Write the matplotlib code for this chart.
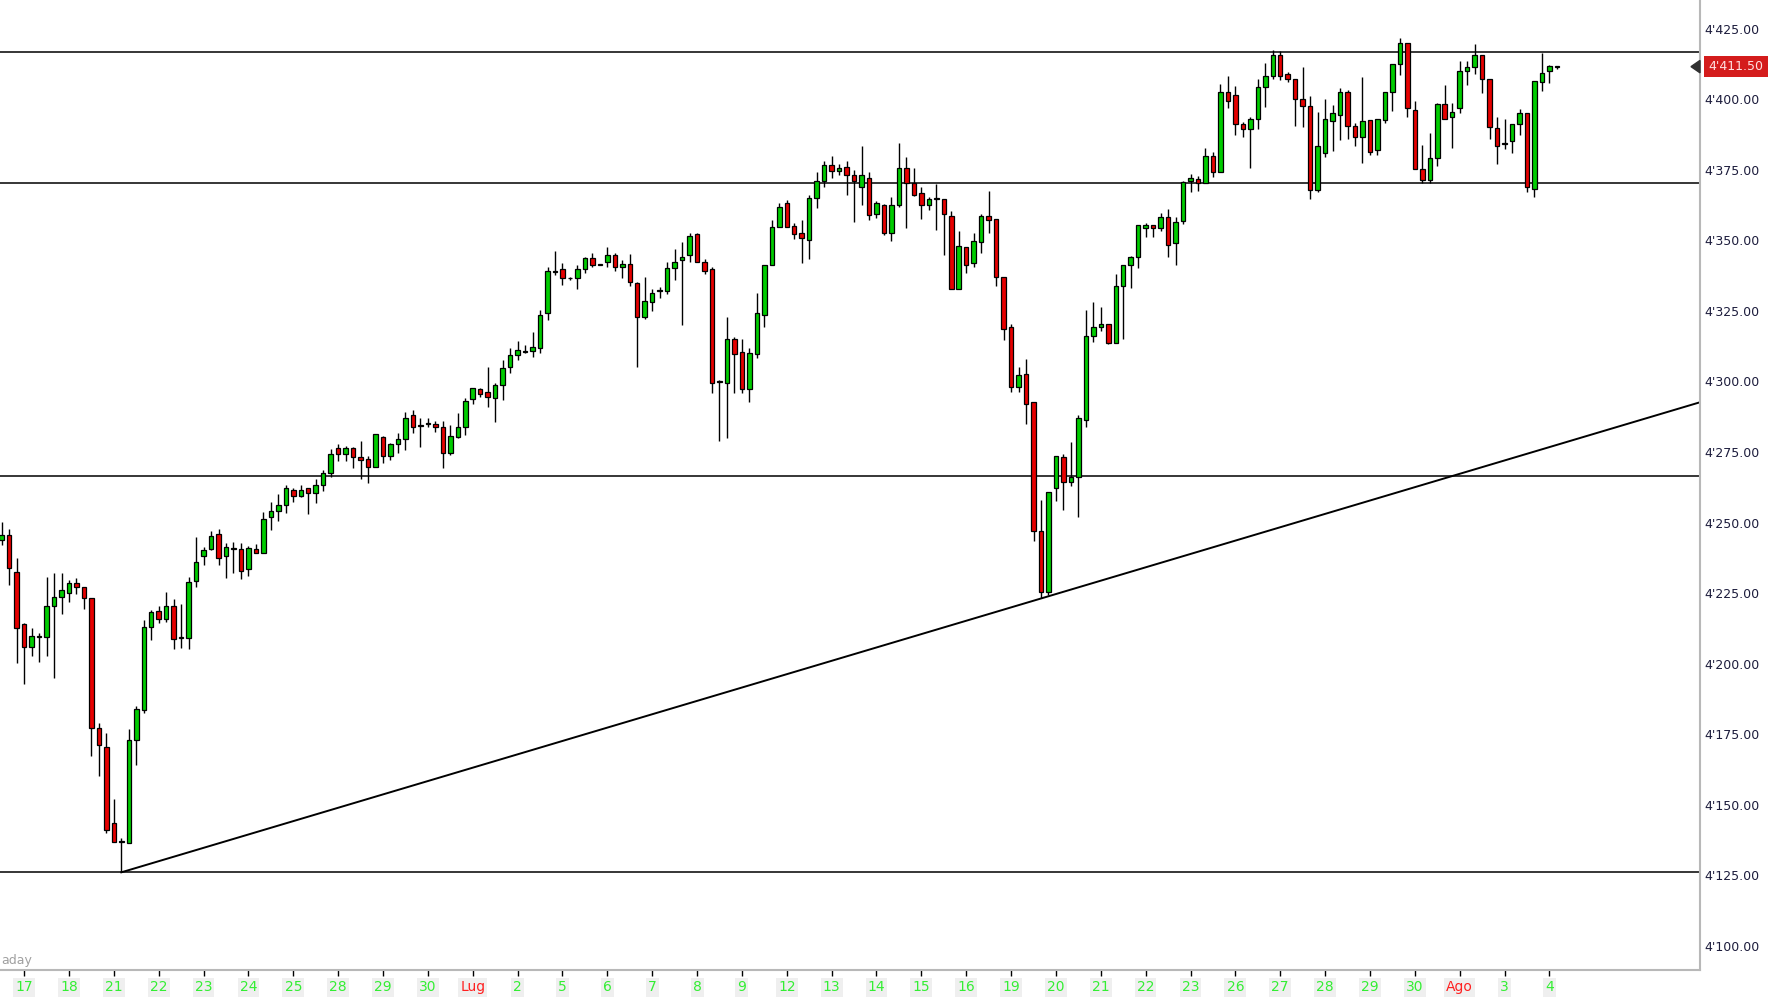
import matplotlib
matplotlib.use('Agg')
import matplotlib.pyplot as plt
import matplotlib.transforms as mtransforms
from matplotlib.patches import Polygon
import numpy as np

# 4h candles
opens = [4243.8, 4245.6, 4232.6, 4214.1, 4205.8, 4209.8, 4209.6, 4220.5, 4223.8, 4224.9,
         4228.5, 4227.1, 4223.2, 4177.1, 4170.6, 4143.7, 4137.0, 4136.4, 4173.0, 4183.6,
         4213.0, 4218.8, 4215.7, 4220.5, 4209.0, 4209.2, 4229.3, 4238.0, 4240.5, 4246.0,
         4238.0, 4240.8, 4240.5, 4233.4, 4240.8, 4239.1, 4251.8, 4254.2, 4256.2, 4261.5,
         4259.4, 4262.1, 4260.6, 4263.3, 4267.6, 4276.3, 4274.3, 4276.3, 4273.1, 4272.5,
         4269.8, 4280.2, 4273.5, 4277.8, 4279.5, 4288.0, 4284.2, 4285.0, 4284.9, 4283.9,
         4274.5, 4280.4, 4283.9, 4293.6, 4297.2, 4296.3, 4294.0, 4298.7, 4305.0, 4309.3,
         4310.5, 4310.9, 4312.0, 4324.1, 4338.9, 4339.7, 4336.5, 4336.5, 4339.7, 4343.6,
         4341.4, 4342.4, 4344.7, 4340.4, 4341.6, 4334.9, 4322.7, 4328.3, 4331.9, 4332.1,
         4340.3, 4343.0, 4344.8, 4352.2, 4342.4, 4339.7, 4299.9, 4299.5, 4314.9, 4310.5,
         4297.2, 4309.7, 4323.5, 4341.2, 4354.8, 4363.1, 4355.0, 4352.7, 4350.1, 4365.0,
         4371.0, 4376.5, 4374.5, 4376.0, 4373.0, 4369.0, 4372.0, 4359.3, 4362.5, 4352.7,
         4362.5, 4375.5, 4370.2, 4366.9, 4362.5, 4364.6, 4364.6, 4358.6, 4332.6, 4347.7,
         4341.8, 4349.5, 4358.7, 4357.5, 4337.1, 4319.3, 4297.9, 4302.5, 4292.8, 4247.1,
         4225.5, 4262.1, 4273.3, 4264.4, 4266.2, 4286.5, 4316.0, 4319.1, 4320.3, 4313.7,
         4333.8, 4341.4, 4344.0, 4354.3, 4355.3, 4354.3, 4358.1, 4348.9, 4356.9, 4371.0,
         4371.6, 4370.2, 4379.9, 4374.3, 4402.4, 4401.4, 4391.0, 4389.5, 4392.9, 4404.3,
         4408.1, 4415.6, 4408.9, 4407.0, 4400.2, 4397.5, 4367.8, 4380.8, 4392.3, 4394.3,
         4402.6, 4390.4, 4386.7, 4392.6, 4381.9, 4392.6, 4402.6, 4412.4, 4419.7, 4396.1,
         4375.4, 4371.5, 4379.3, 4398.2, 4393.5, 4397.0, 4410.0, 4411.2, 4415.6, 4407.0,
         4389.6, 4384.4, 4385.3, 4391.2, 4395.0, 4368.1, 4406.2, 4410.1, 4411.5]
highs = [4250.3, 4247.6, 4237.3, 4214.5, 4212.5, 4211.0, 4230.8, 4232.0, 4232.3, 4229.7,
         4230.3, 4227.1, 4223.2, 4178.9, 4175.6, 4152.0, 4138.2, 4176.8, 4185.0, 4215.5,
         4219.0, 4220.5, 4225.5, 4222.8, 4221.2, 4230.6, 4245.0, 4241.2, 4247.1, 4247.6,
         4242.6, 4243.2, 4242.8, 4241.7, 4242.4, 4253.6, 4257.4, 4260.1, 4263.3, 4262.1,
         4263.3, 4262.1, 4265.3, 4268.6, 4275.9, 4277.8, 4277.1, 4276.9, 4279.0, 4273.5,
         4281.2, 4280.6, 4278.3, 4281.6, 4289.0, 4290.0, 4287.0, 4287.0, 4286.0, 4286.1,
         4284.5, 4288.9, 4294.0, 4297.5, 4297.5, 4305.2, 4299.5, 4307.6, 4311.7, 4314.4,
         4312.9, 4317.6, 4325.3, 4340.6, 4346.3, 4342.0, 4337.1, 4341.2, 4344.2, 4345.6,
         4341.6, 4347.5, 4345.6, 4343.0, 4345.1, 4335.3, 4337.1, 4332.6, 4333.3, 4342.4,
         4346.8, 4349.5, 4352.7, 4352.7, 4343.2, 4340.6, 4300.5, 4322.7, 4315.8, 4314.9,
         4311.7, 4331.2, 4341.2, 4357.2, 4363.1, 4364.3, 4356.0, 4357.0, 4366.0, 4374.0,
         4378.0, 4380.0, 4377.0, 4378.0, 4375.0, 4383.5, 4374.0, 4364.0, 4363.0, 4365.2,
         4384.3, 4379.4, 4375.5, 4368.7, 4365.2, 4369.9, 4364.6, 4360.5, 4353.4, 4347.7,
         4352.7, 4359.3, 4367.6, 4357.5, 4337.1, 4320.3, 4305.2, 4307.8, 4292.8, 4257.9,
         4260.9, 4273.5, 4274.2, 4278.6, 4288.1, 4325.3, 4328.2, 4326.4, 4320.3, 4338.2,
         4341.4, 4344.5, 4355.3, 4356.2, 4355.3, 4359.6, 4360.9, 4358.1, 4371.0, 4373.3,
         4372.7, 4382.8, 4381.2, 4405.2, 4408.1, 4404.7, 4392.0, 4393.8, 4407.2, 4412.8,
         4417.5, 4417.0, 4409.5, 4407.0, 4411.5, 4401.1, 4395.5, 4400.2, 4397.9, 4403.8,
         4403.2, 4391.4, 4407.7, 4392.6, 4392.8, 4402.6, 4412.4, 4421.5, 4419.7, 4399.4,
         4383.7, 4388.1, 4398.5, 4405.0, 4398.5, 4413.6, 4413.6, 4419.5, 4415.6, 4407.0,
         4393.5, 4392.9, 4391.2, 4396.4, 4395.0, 4406.5, 4416.5, 4412.1, 4411.5]
lows = [4242.1, 4227.9, 4200.4, 4192.8, 4202.9, 4200.7, 4202.9, 4194.8, 4217.6, 4222.0,
        4224.7, 4219.3, 4167.3, 4160.2, 4140.2, 4137.0, 4126.1, 4136.4, 4164.1, 4182.4,
        4208.4, 4214.5, 4214.9, 4205.1, 4205.5, 4205.1, 4227.1, 4235.0, 4240.3, 4235.0,
        4230.3, 4232.3, 4229.9, 4231.0, 4239.1, 4239.1, 4247.3, 4250.6, 4253.5, 4257.4,
        4258.9, 4253.0, 4256.8, 4261.3, 4266.0, 4271.9, 4271.9, 4269.2, 4265.3, 4263.9,
        4269.8, 4271.2, 4272.1, 4274.5, 4275.7, 4281.6, 4276.8, 4284.0, 4282.0, 4269.2,
        4273.9, 4279.8, 4281.0, 4292.0, 4294.3, 4290.8, 4285.7, 4293.4, 4303.1, 4307.5,
        4309.9, 4308.5, 4310.1, 4321.7, 4337.7, 4334.1, 4335.9, 4332.6, 4338.5, 4340.6,
        4341.3, 4340.6, 4339.2, 4336.5, 4333.8, 4305.0, 4322.0, 4325.0, 4329.4, 4330.9,
        4335.9, 4320.0, 4342.4, 4342.4, 4338.0, 4296.0, 4279.0, 4279.8, 4296.0, 4296.0,
        4292.8, 4308.2, 4319.4, 4341.2, 4354.8, 4354.8, 4350.3, 4341.8, 4343.2, 4361.3,
        4369.0, 4372.0, 4373.0, 4366.0, 4356.6, 4362.5, 4357.0, 4358.0, 4352.0, 4349.9,
        4361.7, 4354.2, 4365.7, 4357.4, 4360.7, 4353.6, 4344.8, 4332.6, 4332.6, 4338.5,
        4340.4, 4345.6, 4352.7, 4333.8, 4314.7, 4296.3, 4296.3, 4284.9, 4243.5, 4223.1,
        4224.3, 4257.7, 4254.4, 4262.9, 4252.0, 4283.7, 4314.0, 4317.9, 4313.2, 4313.7,
        4315.1, 4333.1, 4340.2, 4351.2, 4351.2, 4353.3, 4344.0, 4341.1, 4355.6, 4367.0,
        4367.6, 4370.2, 4372.3, 4374.3, 4396.7, 4387.2, 4386.6, 4375.6, 4389.5, 4397.1,
        4407.0, 4406.7, 4406.1, 4390.4, 4390.0, 4364.5, 4367.2, 4379.6, 4381.7, 4385.5,
        4385.7, 4383.4, 4377.4, 4380.2, 4380.2, 4391.4, 4395.9, 4408.5, 4393.7, 4375.4,
        4370.4, 4370.4, 4376.3, 4392.8, 4382.5, 4395.2, 4405.0, 4408.9, 4402.0, 4385.7,
        4377.0, 4382.2, 4380.8, 4387.3, 4367.2, 4365.2, 4403.0, 4405.6, 4410.5]
closes = [4245.6, 4234.0, 4212.5, 4205.8, 4209.8, 4209.5, 4220.5, 4223.8, 4226.1, 4228.7,
          4227.1, 4223.2, 4177.1, 4171.2, 4141.1, 4137.0, 4137.2, 4173.0, 4183.8, 4213.1,
          4218.4, 4215.7, 4220.5, 4208.6, 4209.2, 4229.1, 4236.2, 4240.3, 4245.2, 4237.3,
          4241.5, 4240.9, 4232.9, 4241.1, 4239.3, 4251.2, 4254.2, 4256.2, 4262.3, 4259.4,
          4261.5, 4260.6, 4263.3, 4267.6, 4274.3, 4274.3, 4276.3, 4273.1, 4272.1, 4269.8,
          4281.2, 4273.5, 4277.8, 4279.5, 4287.0, 4284.0, 4284.3, 4285.1, 4284.0, 4274.7,
          4280.6, 4283.9, 4293.1, 4297.5, 4295.7, 4294.3, 4298.7, 4304.6, 4309.3, 4311.1,
          4310.6, 4312.3, 4323.5, 4339.2, 4339.0, 4336.5, 4336.6, 4339.7, 4343.6, 4341.2,
          4341.5, 4344.7, 4340.4, 4341.6, 4335.3, 4322.7, 4328.6, 4331.4, 4332.0, 4340.3,
          4342.4, 4343.9, 4351.5, 4342.4, 4339.2, 4299.5, 4299.8, 4314.9, 4309.7, 4297.2,
          4309.9, 4324.1, 4341.2, 4354.8, 4361.9, 4354.8, 4352.2, 4350.7, 4365.0, 4371.0,
          4376.5, 4374.5, 4375.5, 4373.0, 4371.0, 4373.0, 4358.9, 4363.1, 4352.7, 4362.5,
          4375.5, 4370.2, 4366.0, 4362.5, 4364.5, 4364.7, 4359.2, 4332.6, 4348.0, 4341.2,
          4349.9, 4358.7, 4357.2, 4337.1, 4318.4, 4297.9, 4302.2, 4291.9, 4247.1, 4225.5,
          4260.9, 4273.5, 4264.4, 4266.0, 4286.9, 4316.0, 4319.1, 4320.3, 4313.7, 4333.8,
          4341.4, 4344.2, 4355.3, 4355.3, 4354.3, 4358.1, 4348.3, 4356.5, 4370.8, 4372.0,
          4370.2, 4379.9, 4374.3, 4402.4, 4399.3, 4391.0, 4389.5, 4392.9, 4404.3, 4408.1,
          4415.5, 4408.1, 4407.0, 4400.2, 4397.5, 4367.8, 4383.3, 4392.8, 4394.9, 4402.6,
          4390.4, 4386.7, 4392.3, 4381.3, 4392.8, 4402.6, 4412.4, 4419.7, 4397.0, 4375.4,
          4371.5, 4379.3, 4398.2, 4392.8, 4395.5, 4410.0, 4411.2, 4415.6, 4407.0, 4390.0,
          4383.3, 4384.2, 4391.2, 4395.0, 4368.8, 4406.5, 4409.2, 4411.7, 4411.5]

day_labels = ['17', '18', '21', '22', '23', '24', '25', '28', '29', '30', 'Lug',
              '2', '5', '6', '7', '8', '9', '12', '13', '14', '15', '16', '19', '20',
              '21', '22', '23', '26', '27', '28', '29', '30', 'Ago', '3', '4']
month_labels = ['Lug', 'Ago']
bars_per_day = 6
first_day_bar = 3

levels = [4416.6, 4370.2, 4266.6, 4126.1]
trend_from, trend_to = 16, 139
last_price = 4411.50


def price_fmt(v):
    return "{}'{:03d}.{:02d}".format(int(v) // 1000, int(v) % 1000, int(round(v * 100)) % 100)


o = np.array(opens)
h = np.array(highs)
l = np.array(lows)
c = np.array(closes)
x = np.arange(len(o))
up = c >= o
colors = np.where(up, '#00cc00', '#e60000')

fig = plt.figure(figsize=(17.75, 10), dpi=100)
ax = fig.add_axes([0, 30 / 1000, 1700 / 1775, 970 / 1000])

ax.vlines(x, l, h, color='black', lw=1.0, zorder=3)
body = np.maximum(np.abs(c - o), 0.3)
ax.bar(x, body, width=0.6, bottom=np.minimum(o, c), color=colors,
       edgecolor='black', linewidth=0.9, zorder=4)

for lv in levels:
    ax.axhline(lv, color='black', lw=1.1, zorder=2)

slope = (l[trend_to] - l[trend_from]) / (trend_to - trend_from)
x_end = 230
ax.plot([trend_from, x_end], [l[trend_from], l[trend_from] + slope * (x_end - trend_from)],
        color='black', lw=1.4, zorder=2)

ax.set_xlim(-0.227, 227.14)
ax.set_ylim(4091.5, 4435.1)

yt = np.arange(4100, 4426, 25)
ax.yaxis.tick_right()
ax.set_yticks(yt)
ax.set_yticklabels([price_fmt(v) for v in yt])
ax.tick_params(axis='y', length=0, pad=3, labelsize=9, labelcolor='#1c1c3c')

tick_pos = first_day_bar + bars_per_day * np.arange(len(day_labels))
ax.set_xticks(tick_pos)
ax.set_xticklabels(day_labels)
ax.tick_params(axis='x', length=4.5, width=1, pad=3, labelsize=10)
for t, lab in zip(ax.xaxis.get_major_ticks(), day_labels):
    col = '#ff2020' if lab in month_labels else '#33ee33'
    t.tick1line.set_color(col)
    t.label1.set_color(col)
    t.label1.set_bbox(dict(facecolor='#efefef', edgecolor='none', pad=1.5))

for s in ['top', 'left']:
    ax.spines[s].set_visible(False)
for s in ['right', 'bottom']:
    ax.spines[s].set_color('#b8b8b8')
    ax.spines[s].set_linewidth(1.5)

# last price marker
tr = mtransforms.blended_transform_factory(ax.transAxes, ax.transData)
ax.add_patch(Polygon([(1 - 9 / 1700, last_price), (1.0, last_price + 2.2), (1.0, last_price - 2.2)],
                     closed=True, color='#303030', transform=tr, clip_on=False, zorder=6))
ax.text(1 + 36 / 1700, last_price, price_fmt(last_price), transform=tr, ha='center', va='center',
        fontsize=9, color='#ffe0e0', clip_on=False, zorder=6,
        bbox=dict(facecolor='#d41c1c', edgecolor='none', boxstyle='square,pad=0.35'))

ax.text(0.001, 4095, 'aday', ha='left', va='center', fontsize=9, color='#a0a0a0')

fig.savefig('out.png', dpi=100)
